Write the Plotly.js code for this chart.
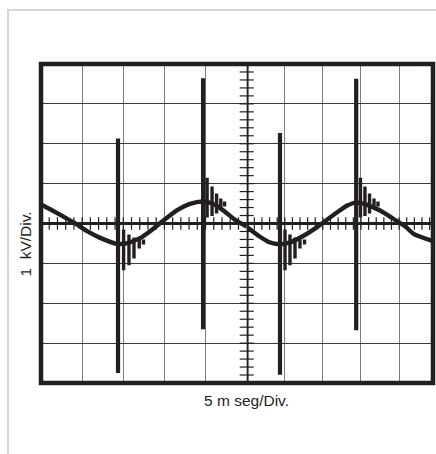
<!DOCTYPE html>
<html>
<head>
<meta charset="utf-8">
<script src="https://cdn.plot.ly/plotly-3.0.1.min.js"></script>
<style>html,body{margin:0;padding:0;background:#fff;}#chart{width:436px;height:454px;}</style>
</head>
<body>
<div id="chart"></div>
<script>
// time in ms (5 ms/div), voltage in kV (1 kV/div)
const curveT = [-25.0, -23.2, -21.0, -19.4, -17.8, -15.8, -14.5, -12.9, -11.7, -10.75, -8.5, -6.9, -5.3, -4.2, -2.85, -1.6, 0.0,
                1.65, 2.97, 4.3, 5.6, 7.35, 9.1, 10.4, 12.2, 13.2, 14.3, 15.7, 17.5, 19.2, 20.9, 21.9, 24.45];
const curveV = [0.475, 0.28, 0.02, -0.19, -0.36, -0.51, -0.49, -0.36, -0.19, -0.03, 0.33, 0.49, 0.55, 0.50, 0.33, 0.12, -0.08,
                -0.32, -0.47, -0.52, -0.48, -0.32, -0.11, 0.075, 0.325, 0.45, 0.525, 0.475, 0.325, 0.125, -0.09, -0.26, -0.44];

const spikeT = [-15.64, -5.30, 4.37, 14.37];
const spikeTop = [2.13, 3.64, 2.27, 3.63];
const spikeBottom = [-3.75, -2.65, -3.79, -2.68];

const ringT = [-14.96, -14.31, -13.70, -13.06, -12.54,
               -4.81, -4.21, -3.66, -3.15, -2.69,
               5.03, 5.68, 6.34, 6.99, 7.59,
               14.93, 15.52, 16.12, 16.71, 17.23];
const ringTop = [-0.15, -0.275, -0.35, -0.40, -0.40,
                 1.15, 0.925, 0.75, 0.625, 0.55,
                 -0.15, -0.275, -0.35, -0.40, -0.40,
                 1.15, 0.925, 0.75, 0.625, 0.55];
const ringBottom = [-1.175, -1.05, -0.875, -0.625, -0.525,
                    0.15, 0.19, 0.25, 0.35, 0.425,
                    -1.175, -1.05, -0.875, -0.625, -0.525,
                    0.15, 0.19, 0.25, 0.35, 0.425];

const xLabel = '5 m seg/Div.';
const yLabel = '1\u00a0 kV/Div.';

const INK = '#231f20';
const SPLIT = 0.5247;

function curveHalf(left) {
  const x = [], y = [];
  for (let i = 0; i < curveT.length; i++) {
    if ((left && curveT[i] <= 0) || (!left && curveT[i] >= 0)) { x.push(curveT[i]); y.push(curveV[i]); }
  }
  return {x, y};
}
function segHalf(ts, a, b, left) {
  const x = [], y = [];
  for (let i = 0; i < ts.length; i++) {
    if ((left && ts[i] < 0) || (!left && ts[i] >= 0)) {
      x.push(ts[i], ts[i], null); y.push(a[i], b[i], null);
    }
  }
  return {x, y};
}

const traces = [];
[true, false].forEach(left => {
  const ax = left ? 'x' : 'x2';
  const c = curveHalf(left);
  traces.push({type: 'scatter', mode: 'lines', x: c.x, y: c.y, xaxis: ax, yaxis: 'y',
    line: {color: INK, width: 4.4, shape: 'spline', smoothing: 0.6}, hoverinfo: 'skip'});
  const s = segHalf(spikeT, spikeTop, spikeBottom, left);
  traces.push({type: 'scatter', mode: 'lines', x: s.x, y: s.y, xaxis: ax, yaxis: 'y',
    line: {color: INK, width: 4.2}, hoverinfo: 'skip'});
  const r = segHalf(ringT, ringTop, ringBottom, left);
  traces.push({type: 'scatter', mode: 'lines', x: r.x, y: r.y, xaxis: ax, yaxis: 'y',
    line: {color: INK, width: 3.4}, hoverinfo: 'skip'});
});

// graticule minor ticks on the centre cross (0.2 div)
const hTickL = [], hTickR = [], vTick = [];
for (let k = 1; k < 25; k++) { hTickL.push(-k); hTickR.push(k); }
for (let k = -19; k <= 19; k++) { if (k !== 0) vTick.push(k * 0.2); }
traces.push({type: 'scatter', mode: 'markers', x: hTickL, y: hTickL.map(() => 0), xaxis: 'x', yaxis: 'y',
  marker: {symbol: 'line-ns', size: 9, line: {color: INK, width: 1.2}}, cliponaxis: false, hoverinfo: 'skip'});
traces.push({type: 'scatter', mode: 'markers', x: hTickR, y: hTickR.map(() => 0), xaxis: 'x2', yaxis: 'y',
  marker: {symbol: 'line-ns', size: 9, line: {color: INK, width: 1.2}}, cliponaxis: false, hoverinfo: 'skip'});
traces.push({type: 'scatter', mode: 'markers', x: vTick.map(() => 0), y: vTick, xaxis: 'x2', yaxis: 'y',
  marker: {symbol: 'line-ew', size: 10, line: {color: INK, width: 1.2}}, cliponaxis: false, hoverinfo: 'skip'});

const xCommon = {showgrid: true, dtick: 5, tick0: 0, gridcolor: '#7c7c7c', gridwidth: 1,
  zeroline: false, showticklabels: false, ticks: '', showline: false, fixedrange: true};

const layout = {
  width: 436, height: 454,
  margin: {l: 41, r: 3, t: 64, b: 71},
  paper_bgcolor: '#ffffff', plot_bgcolor: '#ffffff',
  showlegend: false,
  xaxis: Object.assign({}, xCommon, {domain: [0, SPLIT], range: [-25, 0], anchor: 'y'}),
  xaxis2: Object.assign({}, xCommon, {domain: [SPLIT, 1], range: [0, 24.45], anchor: 'y'}),
  yaxis: {range: [-4, 4], dtick: 1, tick0: 0, showgrid: true, gridcolor: '#3a3a3a', gridwidth: 1,
    zeroline: true, zerolinecolor: INK, zerolinewidth: 3.5, showticklabels: false, ticks: '', showline: false, fixedrange: true},
  shapes: [
    {type: 'line', xref: 'x2', yref: 'paper', x0: 0, x1: 0, y0: 0, y1: 1, line: {color: INK, width: 3.8}, layer: 'below'},
    {type: 'rect', xref: 'paper', yref: 'paper', x0: 0, x1: 1, y0: 0, y1: 1, line: {color: INK, width: 4.5}},
    {type: 'path', xref: 'paper', yref: 'paper',
     path: 'M -0.0842,-0.23 L -0.0842,1.1693 L 1.02,1.1693', line: {color: '#d6d6d6', width: 2}}
  ],
  annotations: [
    {xref: 'paper', yref: 'paper', x: 0.5255, y: -0.056, text: xLabel, showarrow: false,
     xanchor: 'center', yanchor: 'middle', font: {family: 'Liberation Sans, Arial, sans-serif', size: 15.5, color: '#231f20'}},
    {xref: 'paper', yref: 'paper', x: -0.042, y: 0.4357, text: yLabel, showarrow: false, textangle: -90,
     xanchor: 'center', yanchor: 'middle', font: {family: 'Liberation Sans, Arial, sans-serif', size: 15.5, color: '#231f20'}}
  ]
};

Plotly.newPlot('chart', traces, layout, {displayModeBar: false, staticPlot: true});
</script>
</body>
</html>
